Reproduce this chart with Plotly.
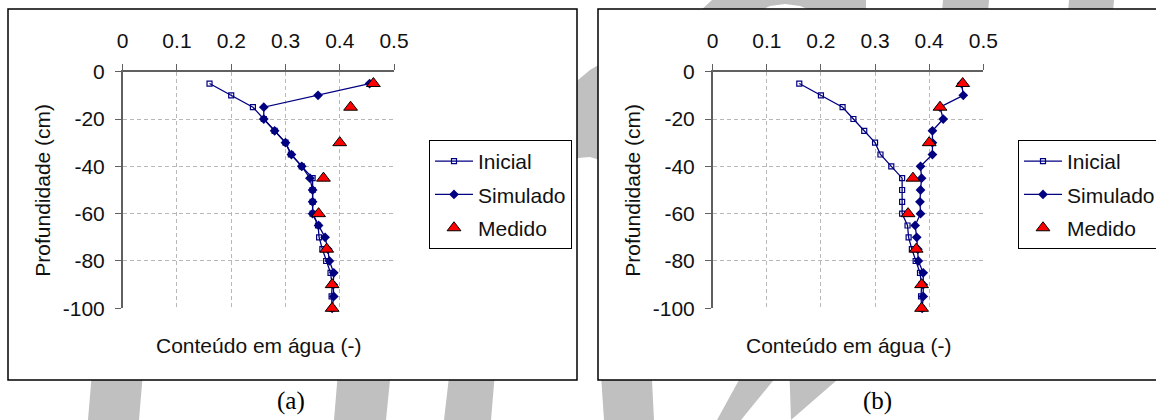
import plotly.graph_objects as go

# ---------------- data ----------------
depth = [-5, -10, -15, -20, -25, -30, -35, -40, -45, -50,
         -55, -60, -65, -70, -75, -80, -85, -90, -95, -100]
inicial = [0.160, 0.200, 0.240, 0.260, 0.280, 0.300, 0.310, 0.330, 0.350, 0.350,
           0.350, 0.350, 0.360, 0.362, 0.368, 0.375, 0.383, 0.386, 0.385, 0.386]
simulado_a = [0.455, 0.360, 0.260, 0.260, 0.280, 0.300, 0.311, 0.330, 0.345, 0.350,
              0.350, 0.350, 0.361, 0.373, 0.378, 0.381, 0.389, 0.388, 0.389, 0.386]
simulado_b = [0.460, 0.463, 0.420, 0.426, 0.406, 0.406, 0.406, 0.384, 0.386, 0.384,
              0.383, 0.384, 0.374, 0.377, 0.379, 0.380, 0.389, 0.389, 0.389, 0.387]
depth_med = [-5, -15, -30, -45, -60, -75, -90, -100]
medido = [0.462, 0.420, 0.400, 0.370, 0.361, 0.376, 0.386, 0.386]

x_ticks = [0, 0.1, 0.2, 0.3, 0.4, 0.5]
x_ticklabels = ["0", "0.1", "0.2", "0.3", "0.4", "0.5"]
y_ticks = [0, -20, -40, -60, -80, -100]
y_ticklabels = ["0", "-20", "-40", "-60", "-80", "-100"]

names = ["Inicial", "Simulado", "Medido"]
x_title = "Conteúdo em água (-)"
y_title = "Profundidade (cm)"
captions = ["(a)", "(b)"]

# ---------------- layout helpers ----------------
W, H = 1156, 420
def px(x):
    return x / W
def py(y):
    return 1 - y / H

FONT = "Liberation Sans, Arial, sans-serif"
FS = 21
NAVY = "#000080"
GRAY_WM = "#c0c0c0"

fig = go.Figure()

panels = [
    dict(sim=simulado_a, xax="x", yax="y", legend="legend", x0=122.7, x1=394.0),
    dict(sim=simulado_b, xax="x2", yax="y2", legend="legend2", x0=712.7, x1=983.3),
]
y_top, y_bot = 71.7, 308.3

for i, p in enumerate(panels):
    fig.add_trace(go.Scatter(
        x=inicial, y=depth, name=names[0], mode="lines+markers",
        line=dict(color=NAVY, width=1.3),
        marker=dict(symbol="square-open", size=5, color=NAVY, line=dict(width=1.2, color=NAVY)),
        xaxis=p["xax"], yaxis=p["yax"], legend=p["legend"], legendgroup=f"i{i}",
        cliponaxis=False))
    fig.add_trace(go.Scatter(
        x=p["sim"], y=depth, name=names[1], mode="lines+markers",
        line=dict(color=NAVY, width=1.3),
        marker=dict(symbol="diamond", size=7.5, color=NAVY, line=dict(width=0)),
        xaxis=p["xax"], yaxis=p["yax"], legend=p["legend"], legendgroup=f"s{i}",
        cliponaxis=False))
    fig.add_trace(go.Scatter(
        x=medido, y=depth_med, name=names[2], mode="markers",
        marker=dict(symbol="triangle-up", size=12, color="#ff0000", line=dict(width=1, color="black")),
        xaxis=p["xax"], yaxis=p["yax"], legend=p["legend"], legendgroup=f"m{i}",
        cliponaxis=False))

axis_common = dict(
    showline=True, linecolor="#606060", linewidth=1.5,
    ticks="outside", ticklen=6, tickwidth=1.2, tickcolor="#606060",
    showgrid=True, gridcolor="#b8b8b8", gridwidth=1, griddash="4px,3px",
    zeroline=False, automargin=False,
    tickfont=dict(family=FONT, size=FS, color="#111111"),
)

layout_axes = {}
for i, p in enumerate(panels):
    sx = "" if i == 0 else "2"
    layout_axes[f"xaxis{sx}"] = dict(
        axis_common, domain=[px(p["x0"]), px(p["x1"])], range=[0, 0.5],
        side="top", anchor=f"y{sx}", tickvals=x_ticks, ticktext=x_ticklabels,
        ticklabelstandoff=8)
    layout_axes[f"yaxis{sx}"] = dict(
        axis_common, domain=[py(y_bot), py(y_top)], range=[-100, 0],
        anchor=f"x{sx}", tickvals=y_ticks, ticktext=y_ticklabels,
        ticklabelstandoff=6)

legend_common = dict(
    bgcolor="white", bordercolor="black", borderwidth=1,
    font=dict(family=FONT, size=FS, color="#111111"),
    xanchor="left", yanchor="top", tracegroupgap=3, itemwidth=38,
)

# watermark shapes (background decoration)
def poly(pts):
    d = "M " + " L ".join(f"{px(x):.5f},{py(y):.5f}" for x, y in pts) + " Z"
    return dict(type="path", path=d, xref="paper", yref="paper",
                fillcolor=GRAY_WM, line=dict(width=0), layer="below")

shapes = [
    poly([(93, 360), (144, 360), (139, 420), (88, 420)]),
    poly([(339, 360), (392, 360), (386, 420), (334, 420)]),
    poly([(451, 360), (496, 360), (491, 420), (444, 420)]),
    poly([(570, 95), (578, 80), (590, 70), (600, 64), (600, 160), (590, 157), (578, 158), (570, 162)]),
    poly([(600, 360), (651, 360), (654, 420), (604, 420)]),
    poly([(750, 360), (790, 360), (741, 420), (717, 420)]),
    poly([(789, 360), (860, 360), (791, 420)]),
    poly([(699, 12), (712, 0), (866, 0), (866, 12), (815, 12), (800, 6), (785, 4), (770, 6), (757, 12)]),
    poly([(943, 0), (989, 0), (988, 12), (942, 12)]),
    poly([(1069, 0), (1114, 0), (1113, 12), (1068, 12)]),
]
for x0, x1 in [(8, 577), (598, 1160)]:
    shapes.append(dict(type="rect", xref="paper", yref="paper",
                       x0=px(x0), x1=px(x1), y0=py(380), y1=py(9),
                       fillcolor="white", line=dict(color="black", width=1.5), layer="below"))

annotations = []
for i, p in enumerate(panels):
    xc = (p["x0"] + p["x1"]) / 2
    annotations.append(dict(text=x_title, x=px(xc), y=py(345), xref="paper", yref="paper",
                            showarrow=False, xanchor="center", yanchor="middle",
                            font=dict(family=FONT, size=FS, color="#111111")))
    annotations.append(dict(text=y_title, x=px(p["x0"] - 80), y=py((y_top + y_bot) / 2),
                            xref="paper", yref="paper", textangle=-90,
                            showarrow=False, xanchor="center", yanchor="middle",
                            font=dict(family=FONT, size=FS, color="#111111")))
    annotations.append(dict(text=captions[i], x=px([291, 877][i]), y=py(401),
                            xref="paper", yref="paper", showarrow=False,
                            xanchor="center", yanchor="middle",
                            font=dict(family="Liberation Serif, Times New Roman, serif", size=25, color="black")))

fig.update_layout(
    width=W, height=H, margin=dict(l=0, r=0, t=0, b=0, autoexpand=False),
    paper_bgcolor="white", plot_bgcolor="rgba(0,0,0,0)",
    legend=dict(legend_common, x=px(429), y=py(140)),
    legend2=dict(legend_common, x=px(1018), y=py(140)),
    shapes=shapes, annotations=annotations,
    **layout_axes,
)

fig.write_html(
    "out.html",
    config={"displayModeBar": False},
    post_script="document.body.style.margin='0';document.body.style.overflow='hidden';",
)
